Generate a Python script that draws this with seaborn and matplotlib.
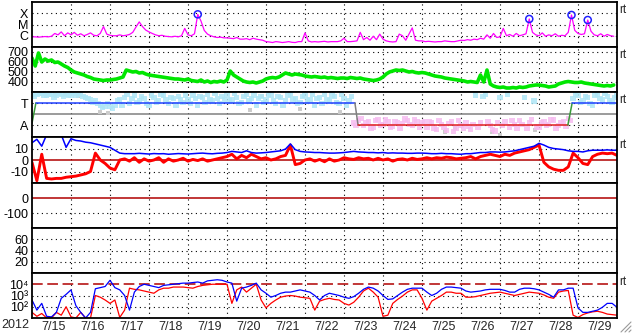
import numpy as np
import pandas as pd
import matplotlib
matplotlib.use("Agg")
import matplotlib.pyplot as plt
from matplotlib.lines import Line2D
from matplotlib.ticker import NullLocator
import seaborn as sns

sns.set_style("white")
plt.rcParams['font.family'] = ['Liberation Sans', 'DejaVu Sans']

# ---------------- data ----------------
year_label = "2012"
date_labels = ["7/15", "7/16", "7/17", "7/18", "7/19", "7/20", "7/21", "7/22",
               "7/23", "7/24", "7/25", "7/26", "7/27", "7/28", "7/29"]

# GOES X-ray flux, 2-hour samples, in units of 1e-6 W/m2 (C1 = 1)
xray_c = [
    0.8, 0.8, 0.75, 0.8, 0.85, 0.8, 0.9, 1.6, 1.2, 2.2, 1.0, 1.8,
    1.2, 2.0, 1.1, 1.5, 1.0, 1.3, 1.8, 1.1, 1.0, 1.6, 6.5, 1.4,
    1.1, 1.0, 1.0, 1.2, 1.0, 1.1, 1.3, 2.0, 6.0, 17, 6.5, 3.2,
    2.2, 1.6, 1.2, 1.0, 1.1, 0.9, 0.85, 0.8, 0.9, 0.8, 1.0, 4.5,
    1.2, 1.0, 1.5, 80, 20, 3.0, 1.4, 1.0, 0.8, 0.7, 0.75, 0.65,
    0.65, 0.6, 0.55, 0.7, 0.5, 0.5, 0.55, 0.45, 0.6, 0.5, 0.45, 0.4,
    0.3, 0.28, 0.25, 0.3, 0.28, 0.25, 0.27, 0.3, 0.26, 0.25, 0.3, 0.3,
    1.8, 0.35, 0.28, 0.3, 0.28, 0.3, 0.32, 0.28, 0.3, 0.3, 0.3, 0.35,
    0.6, 0.3, 0.3, 0.32, 0.35, 2.0, 0.45, 0.7, 0.4, 0.9, 0.45, 1.4,
    0.5, 0.35, 0.3, 0.28, 0.3, 1.4, 1.0, 0.4, 1.4, 5.0, 0.4, 0.35,
    0.35, 0.3, 0.32, 0.3, 0.28, 0.3, 0.3, 0.35, 0.32, 0.3, 0.3, 0.35,
    0.4, 0.38, 0.45, 0.4, 0.5, 0.45, 0.6, 0.5, 1.2, 0.6, 1.6, 0.7,
    0.8, 4.5, 1.0, 1.3, 0.9, 1.6, 1.0, 1.2, 1.5, 31, 2.0, 1.2,
    1.0, 1.8, 0.9, 1.2, 1.0, 1.5, 0.9, 1.1, 1.0, 2.0, 70, 3.0,
    1.6, 1.3, 1.5, 25, 2.5, 1.2, 1.0, 1.5, 0.9, 1.3, 1.0, 0.9,
]
flare_day = [4.25, 12.75, 13.8333, 14.25]
flare_c = [80, 31, 70, 25]

# Solar wind speed (km/s), 2-hour samples
speed = [
    640, 560, 690, 600, 630, 610, 620, 595, 600, 580, 560, 545,
    520, 500, 490, 480, 470, 455, 445, 430, 425, 420, 415, 420,
    420, 425, 430, 440, 450, 520, 510, 500, 505, 490, 495, 480,
    470, 465, 460, 455, 450, 445, 440, 435, 430, 430, 425, 420,
    430, 415, 410, 405, 420, 400, 410, 395, 405, 400, 410, 400,
    420, 510, 470, 450, 430, 410, 400, 395, 400, 390, 400, 410,
    430, 440, 445, 440, 450, 470, 490, 480, 470, 480, 475, 470,
    460, 455, 450, 455, 450, 445, 450, 440, 445, 440, 435, 440,
    440, 435, 445, 440, 435, 440, 430, 425, 420, 415, 420, 430,
    450, 480, 500, 510, 520, 515, 520, 510, 500, 505, 495, 490,
    495, 490, 480, 470, 460, 455, 450, 440, 435, 430, 425, 420,
    415, 410, 400, 405, 400, 395, 470, 400, 520, 380, 360, 350,
    345, 350, 340, 340, 345, 340, 350, 345, 350, 360, 365, 370,
    370, 365, 360, 350, 355, 360, 380, 390, 400, 405, 400, 395,
    395, 400, 390, 385, 380, 375, 370, 365, 360, 365, 360, 370,
]

# IMF azimuth (deg), 3-hour samples, two samples per slot
phi_a = [390, 385, 395, 380, 390, 375, 385, 390, 380,
         375, 385, 360, 345, 330,
         300, 290, 285, 300,
         340, 360, 310, 380, 330, 350, 300,
         360, 330, 380, 310, 350, 370, 320, 345, 380, 300, 360, 390, 330, 350, 370,
         380, 340, 360, 320, 390, 350, 300, 370, 340, 380, 310, 360, 330, 390, 350, 320,
         380, 340, 300, 360, 390, 330, 370, 310, 350, 330,
         150, 170, 130, 160, 120, 180, 140, 165, 125, 155, 145, 170, 130, 160, 150,
         120, 150, 100, 140, 90, 160, 110, 130, 150, 100,
         380, 150, 390, 130, 85, 360, 160, 120, 140,
         170, 360, 150, 330, 120, 165, 140, 175, 130, 160, 190,
         350, 380, 330, 360, 300, 390, 340, 370, 320, 380]
phi_b = [370, 395, 375, 390, 365, 395, 370, 380, 395,
         390, 370, 350, 320, 310,
         280, 310, 270, 330,
         300, 390, 350, 320, 370, 310, 380,
         320, 390, 340, 360, 300, 340, 380, 310, 350, 370, 320, 340, 395, 310, 340,
         330, 395, 310, 370, 330, 380, 350, 320, 390, 330, 370, 300, 380, 340, 310, 370,
         330, 390, 350, 310, 340, 380, 320, 390, 300, 370,
         130, 190, 150, 110, 170, 135, 175, 120, 160, 110, 185, 140, 175, 120, 165,
         160, 110, 170, 120, 145, 80, 170, 105, 125, 140,
         120, 370, 160, 100, 150, 130, 390, 170, 110,
         140, 110, 180, 120, 155, 130, 180, 110, 150, 125, 170,
         390, 320, 370, 310, 380, 350, 395, 330, 360, 300]
gray_day = [0.59, 0.85, 1.18, 1.74, 1.95, 5.59, 5.9, 6.87, 7.9, 10.6, 10.85, 11.8, 12.0, 12.9]
gray_phi = [380, 390, 372, 242, 233, 258, 372, 266, 242, 78, 111, 78, 53, 94]

# IMF sector (T = toward, A = away)
sector_day = [0.0, 0.1, 8.28, 8.36, 13.74, 13.85, 15.0]
sector_phi = [150, 315, 315, 135, 135, 315, 315]
sector_color = ["#3a9a3a", "#2040ff", "#808080", "#e02020", "#3a9a3a", "#2040ff"]

# IMF Bt and Bz (nT), 3-hour samples
bt = [15, 18, 12, 22, 22, 22, 22, 11, 18.5, 17, 16.5,
      15.5, 15, 14, 13, 12, 11, 8.5, 6, 5.5, 5.5,
      5.5, 5.8, 5.5, 5.2, 5.6, 5.4, 5.5, 5.0, 5.3, 5.6, 5.4, 5.2, 5.5, 5.8, 6.0, 5.6, 5.4, 5.8, 6.0, 6.5,
      7.5, 7.0, 6.5, 8.0, 6.5, 6.0, 6.2, 6.5, 7.0, 7.5, 8.0, 9.5, 14, 9, 7.5, 7.0, 6.8, 6.5, 6.5, 6.2,
      6.0, 6.0, 6.2, 6.5, 7.0, 7.5, 7.0, 6.8, 6.5, 6.5, 6.2, 6.5, 6.0, 6.2, 6.0, 6.0, 5.8, 5.8, 6.0, 6.0,
      5.8, 5.5, 5.5, 5.8, 5.5, 5.5, 5.2, 5.0, 5.5, 5.5, 6.0, 6.5, 6.5, 7.0, 7.0, 6.8, 7.0, 7.5, 8.0, 9.0,
      10, 11, 12, 14.5, 13, 11, 10, 9.5, 9, 8, 7.5, 7.5, 7, 8, 8.5, 8.5, 8.5, 8.8, 8.5, 8.5]
bz = [-2, -18, 5, -16, -16.5, -16, -16, -15, -14.5, -14, -13,
      -12, -10, 6, 0, -3, -7, -8.5, 0, 1, -1,
      2, -2, 1, -1, 0, 2, -2, 1, -1, 0, 1.5, -1, 0.5, -0.5, 1, -1, 0, 1, 2, 3,
      5, 1, 4, 2, 5, 3, 1, 2, 0, 1, 3, 4, 13, -4, -3, 0, 1, -1, 0.5, -1.5,
      1, -1, 0, 2, 1, 0.5, 2, 1, 1.5, 0, 1.5, 0, 1, -1, 0.5, 1, 0, 1.5, 0.5, 1,
      2, 1, 2, 1.5, 2.5, 2, 1, 1.5, 2, 3, 1, 3, 4, 5, 4, 3, 5, 4, 6, 7,
      8, 9, 11, 13, -2, -6, -8, -9, -9, -6, 6, 2, -3, -4, 3, 5, 6, 5.5, 6, 4]

# Energetic electron flux, log10, 3-hour samples
e_blue_log = [2.6, 1.7, 2.3, 1.15, 1.1, 1.5, 2.75, 3.1, 3.5, 2.1, 1.5,
              1.0, 1.5, 3.6, 3.7, 3.8, 4.35, 3.7, 3.5, 3.0, 1.7,
              3.3, 3.8, 4.0, 3.9, 3.8, 3.7, 3.9, 3.95, 4.0, 4.05, 4.1, 4.1, 4.15, 4.2, 4.1, 4.3, 4.35, 4.4, 4.35, 4.2,
              4.1, 2.5, 3.65, 3.75, 3.9, 4.1, 3.5, 3.2, 2.85, 3.0, 3.2, 3.3, 3.3, 3.4, 3.5, 3.4, 3.3, 3.0, 2.6, 3.0,
              3.2, 3.1, 3.0, 2.85, 2.75, 2.9, 3.2, 3.55, 3.75, 3.65, 3.4, 3.0, 2.65, 2.7, 3.0, 3.3, 3.55, 3.65, 3.65, 3.65,
              3.3, 3.0, 3.2, 3.55, 3.75, 3.75, 3.7, 3.65, 3.4, 3.3, 3.35, 3.4, 3.5, 3.55, 3.55, 3.55, 3.45, 3.3, 3.3, 3.55,
              3.65, 3.65, 3.6, 3.5, 3.3, 3.1, 2.85, 3.5, 3.5, 3.65, 3.65, 1.9, 1.5, 1.5, 1.6, 1.7, 1.95, 2.3, 2.3, 1.95]
e_red_log = [1.5, 1.15, 1.4, 1.0, 1.0, 1.5, 1.25, 2.0, 1.1, 1.0, 1.5,
             1.0, 1.0, 3.0, 2.85, 2.6, 2.3, 2.6, 1.05, 1.7, 3.65,
             3.55, 3.5, 3.4, 3.3, 3.2, 3.5, 3.65, 3.65, 3.75, 3.75, 3.75, 3.7, 3.65, 3.8, 3.9, 3.95, 4.0, 4.0, 4.0, 4.0,
             2.3, 3.5, 3.75, 3.3, 3.65, 4.0, 2.6, 1.9, 2.3, 2.6, 2.85, 2.95, 3.0, 2.95, 2.85, 2.8, 2.75, 1.7, 2.5, 2.65,
             2.75, 2.65, 2.6, 2.3, 2.15, 2.4, 2.85, 3.4, 3.65, 3.3, 2.85, 1.15, 1.25, 2.3, 2.65, 2.95, 3.3, 3.5, 3.5, 2.75,
             1.7, 2.5, 2.75, 3.0, 3.3, 3.3, 3.2, 3.2, 2.85, 2.85, 2.9, 3.0, 3.1, 3.2, 3.25, 3.3, 3.2, 3.1, 3.0, 3.1,
             3.2, 3.3, 3.25, 3.2, 3.05, 2.85, 2.75, 3.3, 3.4, 3.45, 1.25, 1.05, 1.3, 1.45, 1.55, 1.6, 1.5, 1.35, 1.3, 1.25]

# ---------------- figure ----------------
W, H = 633, 334
fig = plt.figure(figsize=(W / 100, H / 100), dpi=100)
fig.patch.set_facecolor("white")
edges = [2, 47, 92, 137, 183, 228, 273, 318]
x0, x1 = 32, 617
axes = []
for i in range(7):
    yt, yb = edges[i], edges[i + 1]
    ax = fig.add_axes([x0 / W, 1 - yb / H, (x1 - x0) / W, (yb - yt) / H])
    ax.set_facecolor("white")
    axes.append(ax)

DOT = (0, (1, 3.2))
DARKRED = "#b00000"
FS = 9
t2h = np.arange(len(xray_c)) / 12.0
t3h = np.arange(len(bt)) / 8.0


def setup(ax, ylim, yticks, ylabels, dotted, log=False):
    if log:
        ax.set_yscale("log")
    ax.set_xlim(0, 15)
    ax.set_ylim(*ylim)
    ax.set_yticks(yticks, labels=ylabels)
    ax.yaxis.set_minor_locator(NullLocator())
    ax.xaxis.set_minor_locator(NullLocator())
    ax.set_xticks([])
    ax.tick_params(axis="y", length=0, pad=2.5, labelsize=FS, colors="black")
    for d in range(1, 15):
        ax.axvline(d, color="black", lw=0.8, ls=DOT, zorder=0.5)
    for h in dotted:
        ax.axhline(h, color="black", lw=0.8, ls=DOT, zorder=0.5)
    for sp in ax.spines.values():
        sp.set_color("black")
        sp.set_linewidth(1.3)
        sp.set_visible(True)
    ax.grid(False)


# Panel 1: X-ray
ax = axes[0]
setup(ax, (1e-7, 1e-3), [1e-4, 1e-5, 1e-6], ["X", "M", "C"], [1e-4, 1e-5, 1e-6], log=True)
df = pd.DataFrame({"day": t2h, "flux": np.array(xray_c) * 1e-6})
sns.lineplot(data=df, x="day", y="flux", ax=ax, color="#ff00ff", lw=0.9, zorder=2)
sns.scatterplot(x=flare_day, y=np.array(flare_c) * 1e-6, ax=ax, marker="o", s=26,
                facecolor="none", edgecolor="#2020ff", linewidth=1.1, zorder=3)

# Panel 2: solar wind speed
ax = axes[1]
setup(ax, (300, 750), [700, 600, 500, 400], ["700", "600", "500", "400"], [700, 600, 500, 400])
df = pd.DataFrame({"day": t2h, "v": speed})
sns.lineplot(data=df, x="day", y="v", ax=ax, color="#00e600", lw=2.6, zorder=2)

# Panel 3: IMF sector
ax = axes[2]
setup(ax, (37, 405), [315, 135], ["T", "A"], [315, 135])
ax.axhline(225, color="#808080", lw=1.1, zorder=1)
pts = pd.DataFrame({
    "day": np.concatenate([t3h, t3h + 1 / 16]),
    "phi": np.concatenate([phi_a, phi_b]),
})
pts["sector"] = np.where(pts["phi"] > 225, "T", "A")
sns.scatterplot(data=pts, x="day", y="phi", hue="sector", ax=ax, marker="s", s=15,
                linewidth=0, alpha=0.85, palette={"T": "#aee6f6", "A": "#f6bcf0"},
                legend=False, zorder=1.5)
sns.scatterplot(x=gray_day, y=gray_phi, ax=ax, marker="s", s=12, linewidth=0,
                color="#cccccc", zorder=1.4)
for i in range(len(sector_day) - 1):
    sns.lineplot(x=sector_day[i:i + 2], y=sector_phi[i:i + 2], ax=ax,
                 color=sector_color[i], lw=1.1, zorder=2)

# Panel 4: Bz / Bt
ax = axes[3]
setup(ax, (-20, 20), [10, 0, -10], ["10", "0", "-10"], [10, -10])
ax.axhline(0, color=DARKRED, lw=1.1, zorder=1)
df = pd.DataFrame({"day": t3h, "bt": bt, "bz": bz})
sns.lineplot(data=df, x="day", y="bz", ax=ax, color="#ff0000", lw=2.1, zorder=2)
sns.lineplot(data=df, x="day", y="bt", ax=ax, color="#0000ff", lw=1.1, zorder=2.5)

# Panel 5: Dst
ax = axes[4]
setup(ax, (-200, 100), [0, -100], ["0", "-100"], [-100])
ax.axhline(0, color=DARKRED, lw=1.1, zorder=1)

# Panel 6
ax = axes[5]
setup(ax, (0, 80), [60, 40, 20], ["60", "40", "20"], [60, 40, 20])

# Panel 7: electrons
ax = axes[6]
setup(ax, (1e1, 1e5), [1e4, 1e3, 1e2], ["10\u2074", "10\u00b3", "10\u00b2"], [1e3, 1e2], log=True)
ax.axhline(1e4, color=DARKRED, lw=1.1, ls=(0, (7, 3)), zorder=1)
df = pd.DataFrame({"day": t3h, "blue": 10 ** np.array(e_blue_log),
                   "red": 10 ** np.array(e_red_log)})
sns.lineplot(data=df, x="day", y="red", ax=ax, color="#ff0000", lw=0.9, zorder=2)
sns.lineplot(data=df, x="day", y="blue", ax=ax, color="#0000ff", lw=0.9, zorder=2.5)
ax.set_xticks(np.arange(len(date_labels)) + 0.56, labels=date_labels)
ax.tick_params(axis="x", length=0, pad=2, labelsize=FS, labelbottom=True)

for a in axes:
    a.set_xlabel("")
    a.set_ylabel("")

fig.text(15.5 / W, 1 - 325 / H, year_label, ha="center", va="center", fontsize=FS)
for yp in [10, 55, 100, 145, 282]:
    fig.text(619 / W, 1 - yp / H, "rt", ha="left", va="center", fontsize=8.5)

# window resize grip in the corner
for off in [4, 8, 12]:
    fig.add_artist(Line2D([(633 - off) / W, 631 / W], [1 - 332 / H, 1 - (332 - off + 2) / H],
                          color="#9a9a9a", lw=0.8, transform=fig.transFigure))

fig.savefig("out.png", dpi=100, facecolor="white")
